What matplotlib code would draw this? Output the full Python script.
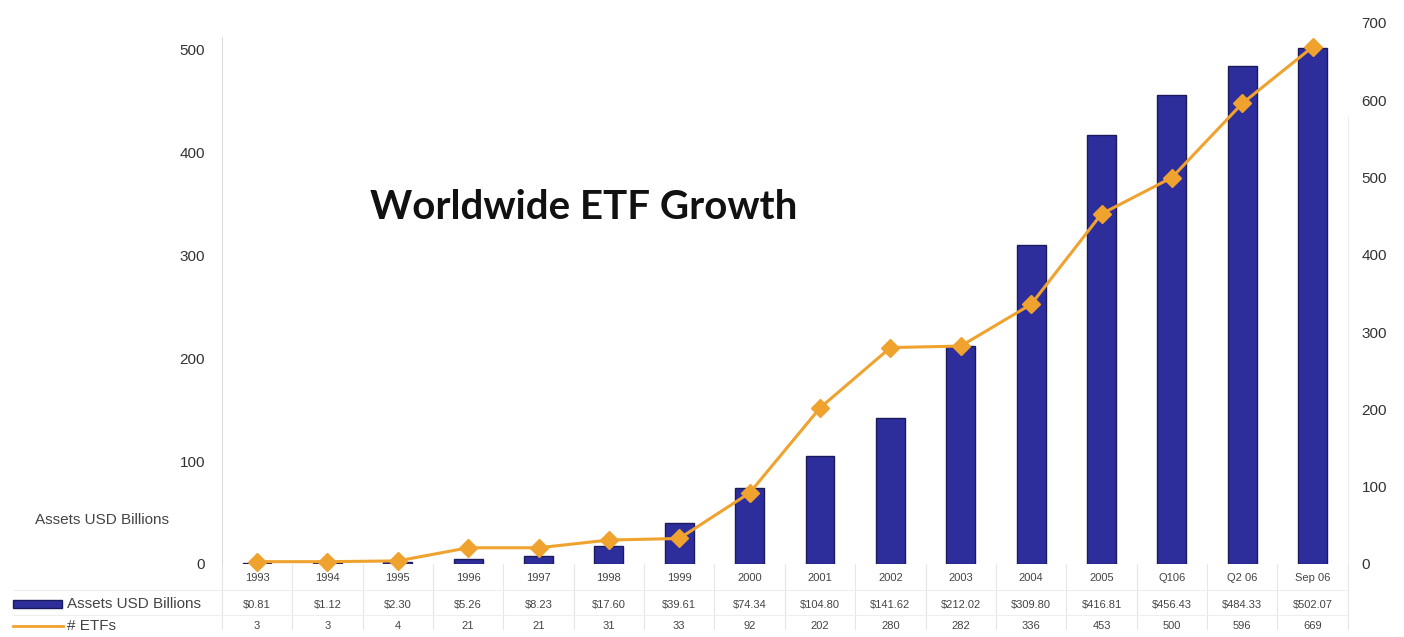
import matplotlib.pyplot as plt
from matplotlib.lines import Line2D
from matplotlib.patches import Rectangle

periods = ['1993', '1994', '1995', '1996', '1997', '1998', '1999', '2000',
           '2001', '2002', '2003', '2004', '2005', 'Q106', 'Q2 06', 'Sep 06']
assets = [0.81, 1.12, 2.30, 5.26, 8.23, 17.60, 39.61, 74.34,
          104.80, 141.62, 212.02, 309.80, 416.81, 456.43, 484.33, 502.07]
etf_count = [3, 3, 4, 21, 21, 31, 33, 92, 202, 280, 282, 336, 453, 500, 596, 669]

BAR_COLOR = '#2d2e9c'
BAR_EDGE = '#1b1b5c'
LINE_COLOR = '#f0a22e'
TEXT_COLOR = '#444444'

plt.rcParams['font.family'] = ['Liberation Sans', 'DejaVu Sans']

fig = plt.figure(figsize=(14.04, 6.37), dpi=100)
ax = fig.add_axes([0.158, 0.1146, 0.802, 0.8493])
ax2 = ax.twinx()

x = range(len(periods))
ax.bar(x, assets, width=0.41, color=BAR_COLOR, edgecolor=BAR_EDGE, linewidth=1.0, zorder=2)
ax.set_xlim(-0.5, 15.5)
ax.set_ylim(0, 526)
ax.set_yticks(range(0, 501, 100))
ax.set_xticks([])

ax2.plot(x, etf_count, color=LINE_COLOR, lw=2.2, marker='D', markersize=9,
         markerfacecolor=LINE_COLOR, markeredgecolor=LINE_COLOR, zorder=3, clip_on=False)
ax2.set_ylim(0, 700)
ax2.set_yticks(range(0, 701, 100))

for a in (ax, ax2):
    for s in a.spines.values():
        s.set_visible(False)
    a.tick_params(length=0, labelsize=11, colors='#333333')
ax.tick_params(axis='y', pad=12)
ax2.tick_params(axis='y', pad=10)
ax.spines['left'].set_visible(True)
ax.spines['left'].set_color('#dddddd')
ax.spines['left'].set_bounds(0, 512)
ax2.spines['right'].set_visible(True)
ax2.spines['right'].set_color('#eeeeee')
ax2.spines['right'].set_bounds(0, 580)

fig.text(0.2635, 0.675, 'Worldwide ETF Growth', fontsize=29, fontweight='bold',
         family=['Lato', 'DejaVu Sans'], color='#111111', va='center')
fig.text(0.025, 0.183, 'Assets USD Billions', fontsize=11, color=TEXT_COLOR, va='center')

# data table under the plot
trans = ax.get_xaxis_transform()
row_y = [-0.025, -0.075, -0.114]
rows = [periods,
        ['$%.2f' % v for v in assets],
        [str(n) for n in etf_count]]
for i in x:
    for ry, vals in zip(row_y, rows):
        ax.text(i, ry, vals[i], transform=trans, ha='center', va='center',
                fontsize=8, color=TEXT_COLOR, clip_on=False)

for b in [v + 0.5 for v in range(-1, 16)]:
    ax.plot([b, b], [-0.12, 0.0], transform=trans, color='#e6e6e6', lw=0.8, clip_on=False)
for hy in [0.073, 0.035]:
    fig.add_artist(Line2D([0.01, 0.96], [hy, hy], color='#eeeeee', lw=0.8))

# legend keys for the table rows
fig.add_artist(Rectangle((0.009, 0.046), 0.035, 0.012, facecolor=BAR_COLOR, edgecolor=BAR_EDGE,
                         transform=fig.transFigure))
fig.add_artist(Line2D([0.009, 0.045], [0.018, 0.018], color=LINE_COLOR, lw=2))
fig.text(0.048, 0.052, 'Assets USD Billions', fontsize=11, color=TEXT_COLOR, va='center')
fig.text(0.048, 0.018, '# ETFs', fontsize=11, color=TEXT_COLOR, va='center')

fig.savefig('out.png', dpi=100)
